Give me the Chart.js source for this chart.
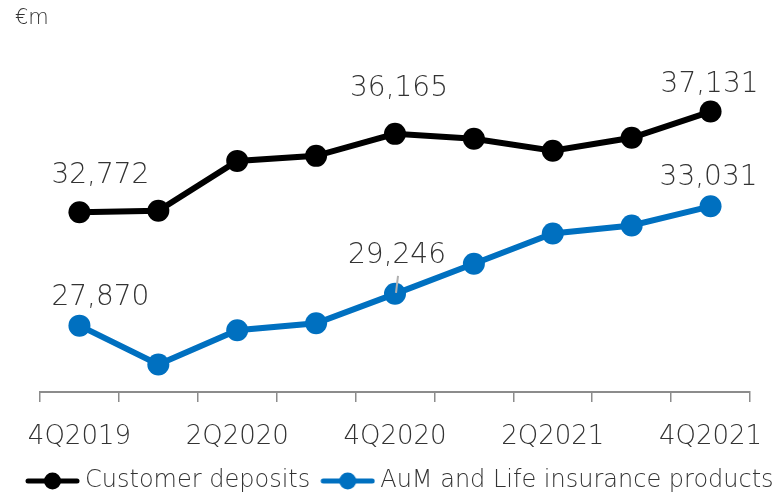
<!DOCTYPE html>
<html>
<head>
<meta charset="utf-8">
<script src="https://cdn.jsdelivr.net/npm/chart.js@4.4.1/dist/chart.umd.min.js"></script>
<style>
  html, body { margin: 0; padding: 0; background: #fff; }
  #wrap { width: 776px; height: 494px; }
</style>
</head>
<body>
<div id="wrap"><canvas id="deposits"></canvas></div>
<script>
// Quarterly volumes, in € millions
const quarters = ['4Q2019', '1Q2020', '2Q2020', '3Q2020', '4Q2020', '1Q2021', '2Q2021', '3Q2021', '4Q2021'];
const customerDeposits = [32772, 32837, 34996, 35214, 36165, 35955, 35432, 35998, 37131];
const aumLife = [27870, 26188, 27671, 27976, 29246, 30548, 31856, 32205, 33031];
const labelledPoints = [0, 4, 8];

const FONT = '"DejaVu Sans", "Open Sans", sans-serif';
const BLACK = '#000000';
const BLUE = '#0070C0';
const TEXT = '#333333';

// value label placement relative to the point (dx, dy)
const depositLabelShift = [[21, -37], [4, -45], [-1, -27]];
const aumLabelShift = [[21, -28], [2, -38], [-2, -29]];

// short line with a dot, used as the legend marker
function legendMarker(color) {
    const c = document.createElement('canvas');
    c.width = 59;
    c.height = 20;
    const g = c.getContext('2d');
    g.strokeStyle = color;
    g.lineWidth = 5;
    g.lineCap = 'round';
    g.beginPath();
    g.moveTo(7, 10);
    g.lineTo(56, 10);
    g.stroke();
    g.fillStyle = color;
    g.beginPath();
    g.arc(31.5, 10, 8.5, 0, Math.PI * 2);
    g.fill();
    return c;
}
const markers = [legendMarker(BLACK), legendMarker(BLUE)];

const valueLabels = {
    id: 'valueLabels',
    afterDatasetsDraw(chart) {
        const ctx = chart.ctx;
        ctx.save();
        ctx.font = '200 28px ' + FONT;
        ctx.fillStyle = TEXT;
        ctx.textAlign = 'center';
        ctx.textBaseline = 'middle';
        chart.data.datasets.forEach((ds, di) => {
            const meta = chart.getDatasetMeta(di);
            const shifts = ds.labelShift;
            labelledPoints.forEach((idx, k) => {
                const pt = meta.data[idx];
                const x = pt.x + shifts[k][0];
                const y = pt.y + shifts[k][1];
                ctx.fillText(ds.data[idx].toLocaleString('en-US'), x, y);
                if (ds.leaderAt === idx) {
                    ctx.strokeStyle = '#b0b0b0';
                    ctx.lineWidth = 2;
                    ctx.beginPath();
                    ctx.moveTo(pt.x + 3, y + 20);
                    ctx.lineTo(pt.x + 1, pt.y - 1);
                    ctx.stroke();
                }
            });
        });
        ctx.restore();
    }
};

new Chart(document.getElementById('deposits').getContext('2d'), {
    type: 'line',
    data: {
        labels: quarters,
        datasets: [
            {
                label: 'Customer deposits',
                data: customerDeposits,
                borderColor: BLACK,
                backgroundColor: BLACK,
                pointBackgroundColor: BLACK,
                borderWidth: 6,
                pointRadius: 11,
                pointBorderWidth: 0,
                labelShift: depositLabelShift,
                tension: 0
            },
            {
                label: 'AuM and Life insurance products',
                data: aumLife,
                borderColor: BLUE,
                backgroundColor: BLUE,
                pointBackgroundColor: BLUE,
                borderWidth: 6,
                pointRadius: 11,
                pointBorderWidth: 0,
                labelShift: aumLabelShift,
                leaderAt: 4,
                tension: 0
            }
        ]
    },
    options: {
        responsive: true,
        maintainAspectRatio: false,
        animation: false,
        // negative right/bottom so the legend row has room and sits low
        layout: { padding: { left: 15, right: -20, top: 2, bottom: -9 } },
        scales: {
            x: {
                offset: true,
                grid: {
                    offset: true,
                    drawOnChartArea: false,
                    drawTicks: true,
                    tickLength: 10,
                    color: '#8c8c8c',
                    lineWidth: 1.5
                },
                border: { display: true, color: '#8c8c8c', width: 2 },
                ticks: {
                    autoSkip: false,
                    maxRotation: 0,
                    padding: 20,
                    color: TEXT,
                    font: { family: FONT, size: 26, weight: '200' },
                    callback: (v, i) => (i % 2 === 0 ? quarters[i] : '')
                },
                afterFit: (s) => {
                    s.height = 64;
                    s.paddingLeft = 0;
                    s.paddingRight = 0;
                }
            },
            y: {
                min: 25000,
                max: 40000,
                ticks: { display: false },
                grid: { display: false },
                border: { display: false },
                afterFit: (s) => { s.width = 25; }
            },
            // empty right-hand gutter
            yRight: {
                position: 'right',
                ticks: { display: false },
                grid: { display: false },
                border: { display: false },
                afterFit: (s) => { s.width = 46; }
            }
        },
        plugins: {
            title: {
                display: true,
                text: '€m',
                align: 'start',
                color: TEXT,
                font: { family: FONT, size: 21, weight: '200' },
                padding: { top: 4, bottom: 14 }
            },
            legend: {
                display: true,
                position: 'bottom',
                align: 'start',
                labels: {
                    usePointStyle: true,
                    pointStyleWidth: 45,
                    padding: 13,
                    color: TEXT,
                    font: { family: FONT, size: 24, weight: '200' },
                    generateLabels(chart) {
                        const items = Chart.defaults.plugins.legend.labels.generateLabels(chart);
                        items.forEach((it, i) => { it.pointStyle = markers[i]; });
                        return items;
                    }
                }
            },
            tooltip: { enabled: false }
        }
    },
    plugins: [valueLabels]
});
</script>
</body>
</html>
